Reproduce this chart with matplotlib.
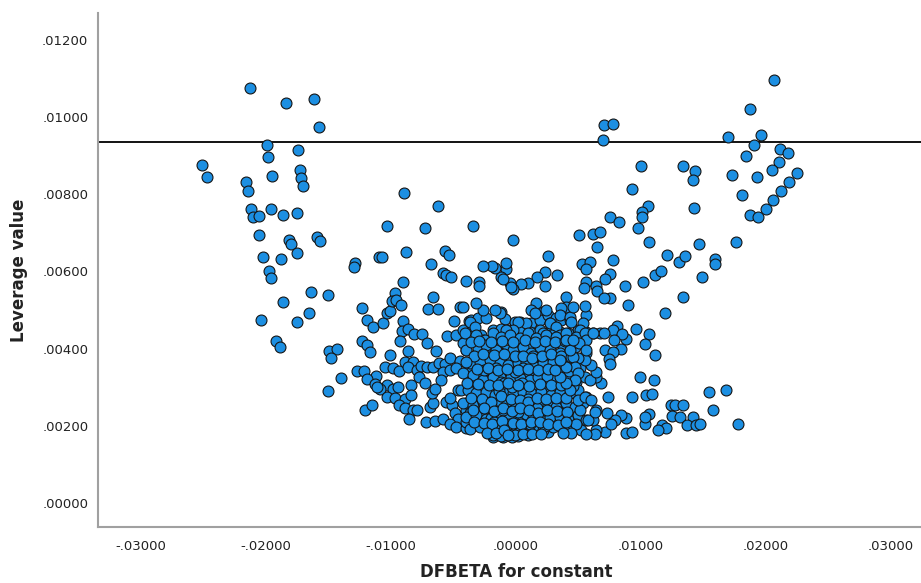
import numpy as np
import matplotlib.pyplot as plt
from matplotlib.ticker import FuncFormatter

# (DFBETA for constant, leverage) pairs, both in units of 1e-3
left_wing = [
    (-25.08, 8.76), (-24.71, 8.45), (-21.27, 10.76), (-18.37, 10.37), (-16.13, 10.46),
    (-15.76, 9.73), (-19.91, 9.26), (-19.83, 8.96), (-17.39, 9.14), (-19.46, 8.48),
    (-17.25, 8.63), (-17.15, 8.42), (-16.99, 8.20), (-21.54, 8.32), (-21.41, 8.08),
    (-21.19, 7.62), (-21.03, 7.42), (-20.50, 7.44), (-19.57, 7.61), (-18.59, 7.46),
    (-17.47, 7.51), (-20.55, 6.94), (-18.16, 6.81), (-17.95, 6.72), (-15.87, 6.89),
    (-15.63, 6.78), (-17.49, 6.48), (-20.18, 6.38), (-18.77, 6.32), (-19.75, 6.02),
    (-19.57, 5.84), (-12.84, 6.22), (-12.94, 6.11), (-16.37, 5.47), (-15.04, 5.38),
    (-18.61, 5.21), (-16.56, 4.93), (-20.39, 4.75), (-17.52, 4.69), (-19.19, 4.20),
    (-18.85, 4.05), (-14.96, 3.95), (-14.30, 3.98), (-14.75, 3.76), (-14.00, 3.23),
    (-14.99, 2.89), (-12.73, 3.43), (-12.12, 3.43), (-12.30, 5.04), (-12.30, 4.20),
    (-11.93, 4.09),
]

mid_left = [
    (-10.94, 6.37), (-11.90, 4.73), (-11.40, 4.55), (-11.66, 3.91), (-11.21, 3.30),
    (-11.93, 3.22), (-11.26, 3.09), (-12.06, 2.41), (-11.53, 2.54), (-10.62, 4.66),
    (-10.33, 4.93), (-10.06, 4.98), (-9.64, 5.43), (-9.93, 5.24), (-9.58, 5.26),
    (-9.19, 5.13), (-6.60, 5.34), (-7.00, 5.03), (-6.18, 5.03), (-9.00, 4.72),
    (-9.13, 4.46), (-8.60, 4.50), (-8.12, 4.37), (-7.53, 4.37), (-9.27, 4.20),
    (-8.60, 3.95), (-7.08, 4.14), (-6.41, 3.93), (-5.49, 4.33), (-4.95, 4.71),
    (-4.74, 4.34), (-10.06, 3.83), (-10.46, 3.53), (-9.85, 3.49), (-9.37, 3.41),
    (-8.87, 3.66), (-8.25, 3.66), (-8.60, 3.52), (-7.93, 3.45), (-7.61, 3.55),
    (-7.13, 3.52), (-6.60, 3.52), (-6.13, 3.63), (-5.67, 3.60), (-5.22, 3.75),
    (-5.85, 3.40), (-6.01, 3.19), (-7.72, 3.26), (-7.27, 3.12), (-8.41, 3.06),
    (-10.33, 3.06), (-9.85, 2.95), (-9.40, 3.00), (-10.86, 2.95), (-11.13, 3.01),
    (-10.28, 2.75), (-9.66, 2.71), (-8.87, 2.69), (-8.41, 2.79), (-9.35, 2.54),
    (-8.87, 2.45), (-8.25, 2.41), (-7.93, 2.41), (-8.52, 2.18), (-7.19, 2.11),
    (-6.47, 2.13), (-5.85, 2.19), (-6.87, 2.49), (-6.60, 2.58), (-6.73, 2.86),
    (-6.47, 2.95), (-5.54, 2.62), (-5.06, 2.54), (-5.22, 2.73), (-4.87, 2.32),
    (-4.79, 2.02), (-4.61, 2.19), (-4.61, 2.93), (-8.95, 8.02), (-6.18, 7.68),
    (-10.33, 7.18), (-7.29, 7.13), (-8.79, 6.51), (-10.68, 6.38), (-6.81, 6.20),
    (-5.67, 6.54), (-5.33, 6.42), (-5.81, 5.95), (-5.54, 5.91), (-5.14, 5.86),
    (-9.05, 5.73), (-3.73, 4.71), (-4.15, 4.18), (-4.47, 3.68), (-5.27, 3.45),
    (-4.74, 3.49), (-3.94, 2.41), (-3.81, 2.24), (-5.27, 2.06), (-4.74, 1.98),
    (-3.99, 1.94), (-4.34, 2.93), (-4.47, 5.09), (-3.99, 5.76),
]

upper_center = [
    (-3.38, 7.17), (-0.24, 6.80), (2.58, 6.39), (3.33, 5.91), (2.37, 5.99),
    (1.70, 5.86), (2.32, 5.62), (0.98, 5.69), (0.40, 5.67), (-0.22, 5.54),
    (-0.48, 5.71), (-0.74, 6.05), (-0.74, 6.21), (-1.20, 5.86), (-0.98, 5.80),
    (-1.68, 6.08), (-1.92, 6.15), (-2.58, 6.15), (-2.96, 5.73), (-2.93, 5.62),
    (3.99, 5.34), (-0.34, 5.60), (-1.14, 4.96), (-0.88, 4.76), (-3.54, 4.74),
    (-3.01, 4.78), (-2.34, 4.78), (1.65, 5.17), (1.25, 5.00), (2.18, 4.96),
    (4.05, 5.09), (5.64, 4.87), (-0.08, 4.70), (0.32, 4.70), (1.25, 4.66),
    (1.92, 4.74), (2.58, 4.87), (2.72, 4.67), (3.25, 4.78), (3.65, 4.74),
    (4.31, 4.74), (4.98, 4.48), (5.64, 4.44), (-4.21, 4.48), (-3.41, 4.53),
    (-2.74, 4.35), (-1.81, 4.48), (-1.14, 4.50), (-0.61, 4.48), (0.45, 4.48),
    (1.12, 4.44), (1.92, 4.48), (2.58, 4.40), (3.51, 4.44), (4.18, 4.40),
    (6.18, 4.40), (3.65, 5.04), (3.51, 4.87), (4.31, 4.83), (2.45, 5.00),
    (1.52, 4.91), (0.85, 4.66), (2.72, 4.66), (3.25, 4.57), (0.18, 4.70),
    (-1.28, 4.91), (-1.68, 5.00), (-2.61, 5.00), (-3.14, 5.17), (-3.67, 4.70),
    (-4.21, 5.09), (-3.27, 4.57), (5.56, 5.10), (4.58, 5.09), (5.38, 4.66),
    (5.11, 4.48), (4.45, 4.70),
]

core = [
    (2.18, 4.40), (2.85, 4.35), (3.51, 4.35), (3.78, 4.09), (2.98, 4.14),
    (1.92, 4.05), (1.12, 4.14), (0.45, 4.14), (-0.22, 4.48), (-0.74, 4.48),
    (-2.61, 4.22), (-1.41, 4.09), (-0.74, 3.96), (-0.08, 3.92), (0.85, 3.88),
    (1.65, 3.79), (2.72, 3.70), (2.18, 3.53), (2.98, 3.58), (1.38, 3.58),
    (0.85, 3.62), (0.18, 3.66), (-0.48, 3.79), (-1.28, 3.88), (-1.81, 3.79),
    (-2.34, 4.05), (-3.94, 3.96), (-4.21, 4.14), (-3.81, 3.45), (-3.41, 3.27),
    (-2.88, 3.36), (-2.34, 3.19), (-1.81, 3.10), (-1.01, 3.27), (-0.48, 3.36),
    (0.18, 3.23), (0.85, 3.14), (1.65, 3.06), (2.45, 3.01), (3.25, 3.10),
    (3.78, 3.23), (1.65, 3.32), (0.85, 3.40), (-3.41, 2.93), (-2.88, 2.75),
    (-2.48, 2.67), (-1.81, 2.75), (-0.74, 2.84), (0.05, 2.75), (0.72, 2.67),
    (1.38, 2.75), (2.18, 2.54), (2.98, 2.75), (3.51, 2.58), (3.78, 2.84),
    (-3.94, 2.58), (-3.67, 2.32), (-2.88, 2.32), (-2.08, 2.45), (-1.54, 2.24),
    (-0.74, 2.37), (-0.08, 2.45), (0.72, 2.41), (1.52, 2.32), (2.32, 2.24),
    (3.25, 2.24), (-3.94, 2.11), (-3.14, 2.02), (-2.34, 2.02), (-1.81, 1.89),
    (-1.28, 1.81), (-0.74, 1.81), (-0.22, 1.85), (0.58, 1.89), (1.25, 1.85),
    (1.92, 2.02), (2.58, 1.85), (-1.81, 1.72), (-1.00, 1.72), (-0.30, 1.72),
    (-2.60, 1.96),
    (-4.07, 4.40), (-3.14, 4.35), (-2.48, 4.22), (-1.81, 4.40), (-1.14, 4.31),
    (-0.48, 4.35), (0.32, 4.27), (0.98, 4.40), (1.65, 4.27), (2.45, 4.35),
    (3.25, 4.31), (4.05, 4.40), (4.85, 4.31), (5.51, 4.40),
    (-3.94, 3.96), (-3.01, 4.01), (-2.34, 4.09), (-1.54, 3.96), (-0.75, 3.79),
    (-0.21, 3.96), (0.59, 4.05), (1.25, 3.88), (1.92, 4.05), (2.72, 3.96),
    (3.51, 3.88), (4.31, 3.96), (4.98, 4.14), (5.64, 3.88),
    (-3.67, 3.62), (-2.88, 3.66), (-2.08, 3.70), (-1.28, 3.62), (-0.61, 3.58),
    (0.19, 3.62), (0.85, 3.66), (1.52, 3.53), (2.18, 3.62), (2.98, 3.66),
    (3.65, 3.53), (4.45, 3.62), (5.11, 3.49),
    (-4.21, 3.36), (-3.41, 3.32), (-2.61, 3.19), (-1.81, 3.27), (-1.14, 3.14),
    (-0.35, 3.27), (0.32, 3.23), (1.12, 3.19), (1.78, 3.27), (2.58, 3.19),
    (3.25, 3.23), (4.05, 3.27), (4.85, 3.14), (5.51, 3.27),
    (-3.81, 2.93), (-3.14, 2.84), (-2.34, 2.88), (-1.68, 2.80), (-0.88, 2.93),
    (-0.21, 2.84), (0.59, 2.88), (1.25, 2.84), (2.05, 2.88), (2.85, 2.80),
    (3.51, 2.88), (4.31, 2.84), (4.98, 2.93), (5.64, 2.75),
    (-4.21, 2.58), (-3.41, 2.54), (-2.61, 2.63), (-1.81, 2.50), (-1.14, 2.63),
    (-0.35, 2.50), (0.45, 2.58), (1.12, 2.50), (1.92, 2.63), (2.58, 2.54),
    (3.25, 2.50), (4.05, 2.58), (4.71, 2.50), (5.38, 2.58),
    (-3.94, 2.24), (-3.14, 2.28), (-2.34, 2.19), (-1.54, 2.28), (-0.88, 2.15),
    (-0.21, 2.24), (0.59, 2.19), (1.25, 2.28), (2.05, 2.15), (2.72, 2.24),
    (3.51, 2.24), (4.18, 2.19), (4.98, 2.28), (5.64, 2.15),
    (-3.67, 1.93), (-2.88, 1.98), (-2.08, 1.89), (-1.41, 1.98), (-0.75, 1.93),
    (-0.08, 1.89), (0.72, 1.98), (1.52, 1.93), (2.18, 1.89), (2.98, 1.98),
    (3.78, 1.89), (4.45, 1.98), (5.25, 1.89),
    (-1.81, 1.76), (-1.14, 1.74), (-0.48, 1.79), (0.19, 1.74), (0.98, 1.76),
    (-0.30, 3.00), (0.50, 3.10), (0.00, 2.60), (0.80, 2.30), (-0.60, 2.20),
    (0.30, 2.00), (-0.10, 3.40), (1.00, 2.70), (-1.00, 2.40), (0.60, 3.50),
    (-0.40, 1.95), (0.20, 2.35), (1.40, 2.20), (-1.30, 2.90), (0.90, 1.85),
    (0.10, 1.80), (-0.70, 2.65), (1.70, 2.45), (-2.00, 2.20), (2.30, 2.00),
    (-1.60, 3.50), (-2.50, 3.45), (1.40, 3.80), (2.50, 3.30), (-0.90, 3.10),
    (-1.70, 2.10), (-0.50, 2.05), (0.40, 1.92), (1.10, 2.05), (-1.20, 2.00),
    # filling between the visible rows of the dense block
    (-3.60, 4.18), (-2.90, 4.20), (-1.95, 4.18), (-1.10, 4.20), (-0.20, 4.16),
    (0.70, 4.22), (1.50, 4.16), (2.30, 4.20), (3.10, 4.16), (3.95, 4.20),
    (4.70, 4.05), (-3.30, 3.82), (-2.60, 3.85), (-1.70, 3.84), (-0.95, 3.85),
    (-0.10, 3.80), (0.55, 3.82), (1.30, 3.75), (2.10, 3.82), (2.80, 3.85),
    (3.60, 3.80), (4.40, 3.78), (-4.00, 3.65), (-3.10, 3.48), (-2.20, 3.50),
    (-1.45, 3.45), (-0.70, 3.48), (0.15, 3.45), (0.95, 3.48), (1.80, 3.45),
    (2.60, 3.48), (3.40, 3.45), (4.25, 3.42), (-3.90, 3.10), (-3.00, 3.08),
    (-2.10, 3.05), (-1.40, 3.05), (-0.60, 3.12), (0.20, 3.05), (1.05, 3.02),
    (1.95, 3.08), (2.80, 3.05), (3.60, 3.05), (4.55, 3.02), (-3.55, 2.72),
    (-2.70, 2.70), (-1.95, 2.62), (-1.20, 2.78), (-0.40, 2.70), (0.30, 2.68),
    (1.00, 2.62), (1.70, 2.72), (2.40, 2.70), (3.20, 2.72), (4.00, 2.72),
    (-3.40, 2.40), (-2.55, 2.45), (-1.75, 2.38), (-1.00, 2.45), (-0.30, 2.38),
    (0.35, 2.45), (1.05, 2.40), (1.80, 2.34), (2.50, 2.40), (3.30, 2.38),
    (4.10, 2.35), (-3.35, 2.10), (-2.55, 2.08), (-1.90, 2.05), (-1.10, 2.12),
    (-0.25, 2.08), (0.45, 2.05), (1.20, 2.10), (1.90, 2.10), (2.60, 2.05),
    (3.40, 2.02), (-2.30, 1.82), (-1.55, 1.82), (-0.95, 1.88), (-0.10, 1.76),
    (0.55, 1.80), (1.30, 1.78), (2.00, 1.80), (-0.65, 1.76),
]

right_mid = [
    (5.03, 6.94), (6.21, 6.96), (6.77, 7.01), (6.50, 6.64), (7.75, 6.29),
    (5.27, 6.19), (5.91, 6.24), (5.59, 6.07), (7.56, 5.92), (7.16, 5.79),
    (5.62, 5.73), (6.39, 5.62), (6.50, 5.50), (5.49, 5.56), (8.76, 5.62),
    (10.20, 5.72), (11.13, 5.90), (11.64, 6.01), (12.12, 6.43), (13.02, 6.24),
    (13.55, 6.39), (15.95, 6.33), (15.95, 6.19), (14.91, 5.85), (13.36, 5.34),
    (7.51, 5.32), (7.03, 5.32), (7.03, 9.79), (7.80, 9.81), (6.95, 9.40),
    (10.04, 8.74), (13.34, 8.74), (14.30, 8.59), (14.16, 8.37), (9.29, 8.14),
    (10.57, 7.69), (10.12, 7.54), (10.09, 7.40), (14.24, 7.64), (9.74, 7.13),
    (7.51, 7.41), (8.25, 7.29), (10.65, 6.77), (14.62, 6.72), (11.96, 4.93),
    (9.00, 5.12), (9.64, 4.50), (10.62, 4.38), (10.36, 4.13), (11.16, 3.84),
    (8.79, 4.26), (8.44, 3.99), (8.09, 4.59), (7.75, 4.48), (8.52, 4.39),
    (7.83, 4.22), (7.16, 3.96), (7.77, 3.92), (7.45, 3.74), (7.56, 3.60),
    (6.71, 4.40), (7.03, 4.40), (5.64, 4.22), (5.03, 4.14), (9.96, 3.27),
    (11.02, 3.19), (7.37, 2.74), (9.32, 2.75), (10.38, 2.79), (10.89, 2.82),
    (15.47, 2.88), (16.80, 2.94), (15.76, 2.40), (17.79, 2.06), (12.41, 2.54),
    (12.75, 2.54), (13.36, 2.54), (12.46, 2.25), (13.10, 2.24), (14.16, 2.22),
    (13.71, 2.02), (14.43, 2.02), (14.75, 2.04), (11.69, 2.02), (12.04, 1.94),
    (11.37, 1.89), (10.36, 2.06), (10.62, 2.31), (10.30, 2.24), (8.84, 2.21),
    (8.44, 2.28), (8.79, 1.82), (9.32, 1.85), (7.91, 2.15), (7.29, 2.32),
    (7.11, 1.85), (7.64, 2.06), (6.45, 1.89), (6.31, 1.79), (5.64, 1.79),
    (6.18, 2.15), (6.45, 2.41), (5.78, 2.15), (4.85, 2.06), (4.45, 1.81),
    (3.78, 1.82), (5.11, 2.41), (4.05, 2.11), (4.98, 2.67), (5.51, 2.75),
    (6.05, 2.67), (6.31, 2.37), (6.85, 3.11), (6.45, 3.26), (5.91, 3.19),
    (6.45, 3.40), (6.05, 3.58), (5.51, 3.70), (5.64, 3.96), (4.98, 3.75),
    (4.58, 3.79), (4.71, 3.53), (4.98, 3.36), (4.71, 3.19), (4.31, 2.93),
    (4.05, 3.10), (3.51, 3.27), (3.12, 3.45), (4.05, 3.53), (3.51, 3.70),
    (4.31, 3.96), (4.05, 4.22), (4.58, 4.22), (6.18, 4.40),
]

right_wing = [
    (20.61, 10.96), (18.74, 10.21), (16.96, 9.49), (19.62, 9.53), (19.01, 9.26),
    (18.43, 9.00), (21.14, 9.17), (21.73, 9.06), (21.03, 8.83), (20.45, 8.62),
    (22.47, 8.55), (17.28, 8.49), (19.27, 8.44), (21.83, 8.31), (21.19, 8.08),
    (18.08, 7.97), (20.55, 7.84), (19.97, 7.62), (18.74, 7.47), (19.38, 7.40),
    (17.63, 6.77),
]

cutoff_leverage = 0.00934

groups = [left_wing, mid_left, upper_center, core, right_mid, right_wing]
pts = np.array([p for g in groups for p in g]) / 1000.0
dfbeta, leverage = pts[:, 0], pts[:, 1]


def spss_fmt(v, _pos):
    s = f"{abs(v):.5f}".lstrip("0")
    return ("-" if v < -1e-12 else "") + s


fig = plt.figure(figsize=(9.21, 5.83), dpi=100)
ax = fig.add_axes([0.1064, 0.096, 0.8936, 0.8817])

ax.axhline(cutoff_leverage, color="black", lw=1.3, zorder=1)
ax.scatter(dfbeta, leverage, s=62, facecolor="#1C8FE2", edgecolor="#151515",
           linewidth=0.8, zorder=2)

ax.set_xlim(-0.0334, 0.0324)
ax.set_ylim(-0.00062, 0.01269)
ax.set_xticks(np.arange(-0.03, 0.0301, 0.01))
ax.set_yticks(np.arange(0.0, 0.01201, 0.002))
ax.xaxis.set_major_formatter(FuncFormatter(spss_fmt))
ax.yaxis.set_major_formatter(FuncFormatter(spss_fmt))
ax.tick_params(axis="both", length=0, labelsize=9.5, labelcolor="#222222")
ax.tick_params(axis="x", pad=9)
ax.tick_params(axis="y", pad=7)

for side in ("top", "right"):
    ax.spines[side].set_visible(False)
for side in ("left", "bottom"):
    ax.spines[side].set_color("#a0a0a0")
    ax.spines[side].set_linewidth(1.5)

ax.set_xlabel("DFBETA for constant", fontsize=12, fontweight="bold", color="#222222")
ax.set_ylabel("Leverage value", fontsize=12, fontweight="bold", color="#222222")
ax.xaxis.label.set_va("center")
ax.yaxis.label.set_va("center")
ax.xaxis.set_label_coords(0.508, -0.0875)
ax.yaxis.set_label_coords(-0.0960, 0.5)

fig.savefig("out.png", dpi=100)
